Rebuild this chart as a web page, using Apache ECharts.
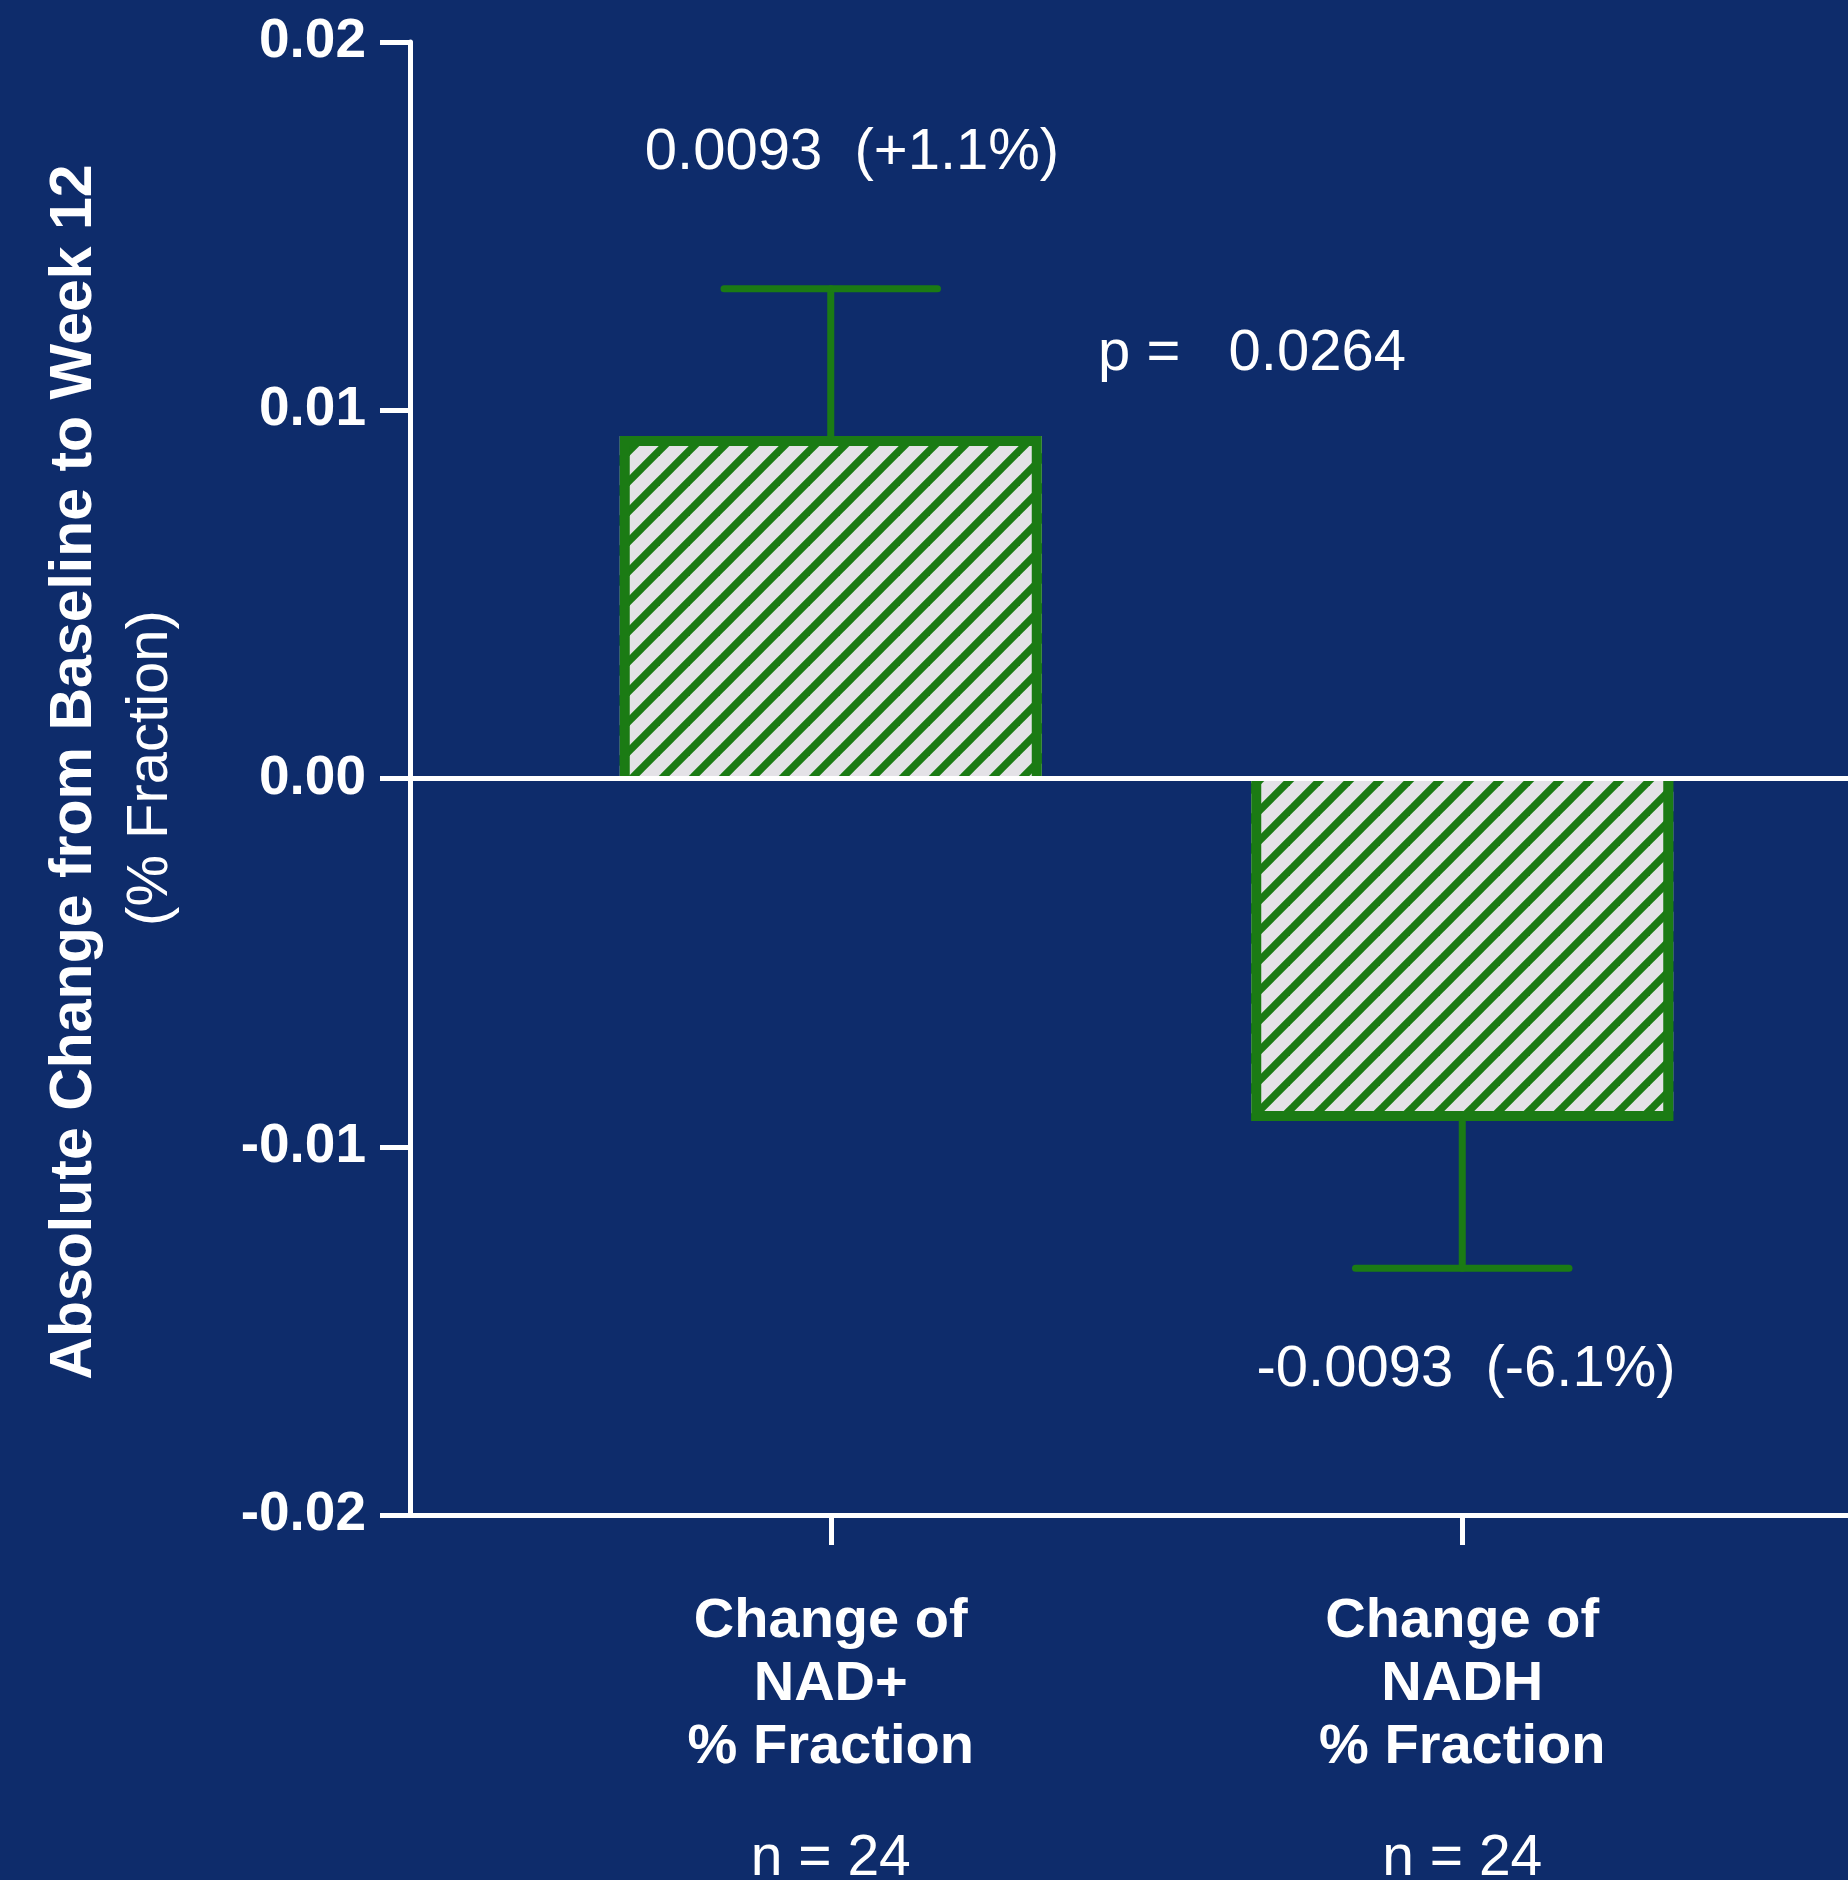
<!DOCTYPE html>
<html><head><meta charset="utf-8">
<script src="https://cdn.jsdelivr.net/npm/echarts@6/dist/echarts.min.js"></script>
<style>html,body{margin:0;padding:0;background:#0e2c6b;} #c{width:1848px;height:1880px;}</style>
</head><body><div id="c"></div>
<script>
// ---- data ----
const categories = ['Change of\nNAD+\n% Fraction', 'Change of\nNADH\n% Fraction'];
const sampleSizes = ['n = 24', 'n = 24'];
const meanChange = [0.0093, -0.0093];
const errorEnd = [0.0133, -0.0133];
const valueLabels = ['0.0093  (+1.1%)', '-0.0093  (-6.1%)'];
const pValueText = 'p =   0.0264';
const yTickLabels = ['-0.02', '-0.01', '0.00', '0.01', '0.02'];
const yTitle = 'Absolute Change from Baseline to Week 12';
const ySubTitle = '(% Fraction)';

// ---- styles ----
const BG = '#0e2c6b';
const GREEN = '#1b7b14';
const FONT = '"Liberation Sans", Arial, sans-serif';
const BAR_RATIO = 422 / 631.5;

function hatch() {
  const T = 30;
  const c = document.createElement('canvas');
  c.width = T; c.height = T;
  const g = c.getContext('2d');
  g.fillStyle = '#e4e2e7';
  g.fillRect(0, 0, T, T);
  g.strokeStyle = GREEN;
  g.lineWidth = 7.5;
  for (let k = -1; k <= 1; k++) {
    g.beginPath();
    g.moveTo(k * T - 3, T + 3);
    g.lineTo(k * T + T + 3, -3);
    g.stroke();
  }
  return c;
}

const chart = echarts.init(document.getElementById('c'), null, {renderer: 'canvas'});
const option = {
  backgroundColor: BG,
  animation: false,
  grid: [
    {left: 410, right: 0, top: 42, bottom: 365, containLabel: false, outerBoundsMode: 'none'},
    {left: 515, width: 1263, top: 42, bottom: 365, containLabel: false, outerBoundsMode: 'none'}
  ],
  xAxis: [
    {gridIndex: 0, type: 'value', min: 0, max: 1,
     axisLine: {show: true, onZero: false, lineStyle: {color: '#fff', width: 5}},
     axisTick: {show: false}, axisLabel: {show: false}, splitLine: {show: false}},
    {gridIndex: 1, type: 'category', data: categories,
     axisLine: {show: false, onZero: false},
     axisTick: {show: true, alignWithLabel: true, length: 30, inside: false,
                lineStyle: {color: '#fff', width: 5}},
     axisLabel: {
       show: true, margin: 75, interval: 0,
       formatter: (v, i) => v.split('\n').map(s => '{b|' + s + '}').join('\n') +
                  '\n{g| }\n{n|' + sampleSizes[i] + '}',
       rich: {
         b: {color: '#fff', fontSize: 56, fontWeight: 'bold', fontFamily: FONT, lineHeight: 63},
         g: {fontSize: 10, lineHeight: 49},
         n: {color: '#fff', fontSize: 57, fontFamily: FONT, lineHeight: 63}
       }
     },
     splitLine: {show: false}}
  ],
  yAxis: [
    {gridIndex: 0, type: 'value', min: -0.02, max: 0.02, interval: 0.01,
     axisLine: {show: true, lineStyle: {color: '#fff', width: 5}},
     axisTick: {show: true, length: 30, lineStyle: {color: '#fff', width: 5}},
     axisLabel: {color: '#fff', fontSize: 55, fontWeight: 'bold', fontFamily: FONT, margin: 44,
       formatter: (v) => yTickLabels[Math.round((v + 0.02) / 0.01)]},
     splitLine: {show: false}},
    {gridIndex: 1, type: 'value', min: -0.02, max: 0.02, interval: 0.01, show: false}
  ],
  series: [
    {
      type: 'bar', xAxisIndex: 1, yAxisIndex: 1, data: meanChange,
      barWidth: (BAR_RATIO * 100) + '%', z: 2,
      itemStyle: {color: {image: hatch(), repeat: 'repeat'}, borderWidth: 0}
    },
    {
      // three-sided bar outline (open at the zero line) + error bars
      type: 'custom', xAxisIndex: 1, yAxisIndex: 1, z: 3,
      data: meanChange.map((m, i) => [i, m, errorEnd[i]]),
      renderItem: function (params, api) {
        const x = api.value(0);
        const m = api.value(1);
        const z0 = api.coord([x, 0]);
        const a = api.coord([x, m]);
        const b = api.coord([x, api.value(2)]);
        const band = api.size([1, 0])[0];
        const bw = band * BAR_RATIO;
        const lw = 10;
        const sgn = m >= 0 ? 1 : -1;
        const left = z0[0] - bw / 2 + lw / 2;
        const right = z0[0] + bw / 2 - lw / 2;
        const yv = a[1] + sgn * lw / 2;
        const half = band * 0.169;
        const st = {stroke: GREEN, lineWidth: 7, lineCap: 'round'};
        return {type: 'group', children: [
          {type: 'polyline', shape: {points: [[left, z0[1]], [left, yv], [right, yv], [right, z0[1]]]},
           style: {stroke: GREEN, lineWidth: lw, lineJoin: 'miter', fill: null}},
          {type: 'line', shape: {x1: a[0], y1: a[1], x2: b[0], y2: b[1]}, style: st},
          {type: 'line', shape: {x1: b[0] - half, y1: b[1], x2: b[0] + half, y2: b[1]}, style: st}
        ]};
      }
    },
    {
      type: 'line', xAxisIndex: 0, yAxisIndex: 0, data: [[0, 0], [1, 0]], z: 5,
      symbol: 'none', silent: true, lineStyle: {color: '#fff', width: 5}
    }
  ],
  graphic: [
    {type: 'text', x: 75, y: 772, rotation: Math.PI / 2,
     style: {text: yTitle, fill: '#fff', fontSize: 59, fontWeight: 'bold', fontFamily: FONT,
             align: 'center', verticalAlign: 'middle'}},
    {type: 'text', x: 151, y: 768, rotation: Math.PI / 2,
     style: {text: ySubTitle, fill: '#fff', fontSize: 58, fontFamily: FONT,
             align: 'center', verticalAlign: 'middle'}},
    {type: 'text', x: 852, y: 153,
     style: {text: valueLabels[0], fill: '#fff', fontSize: 58, fontFamily: FONT,
             align: 'center', verticalAlign: 'middle'}},
    {type: 'text', x: 1466, y: 1370,
     style: {text: valueLabels[1], fill: '#fff', fontSize: 58, fontFamily: FONT,
             align: 'center', verticalAlign: 'middle'}},
    {type: 'text', x: 1252, y: 354,
     style: {text: pValueText, fill: '#fff', fontSize: 58, fontFamily: FONT,
             align: 'center', verticalAlign: 'middle'}}
  ]
};
chart.setOption(option);
</script>
</body></html>
